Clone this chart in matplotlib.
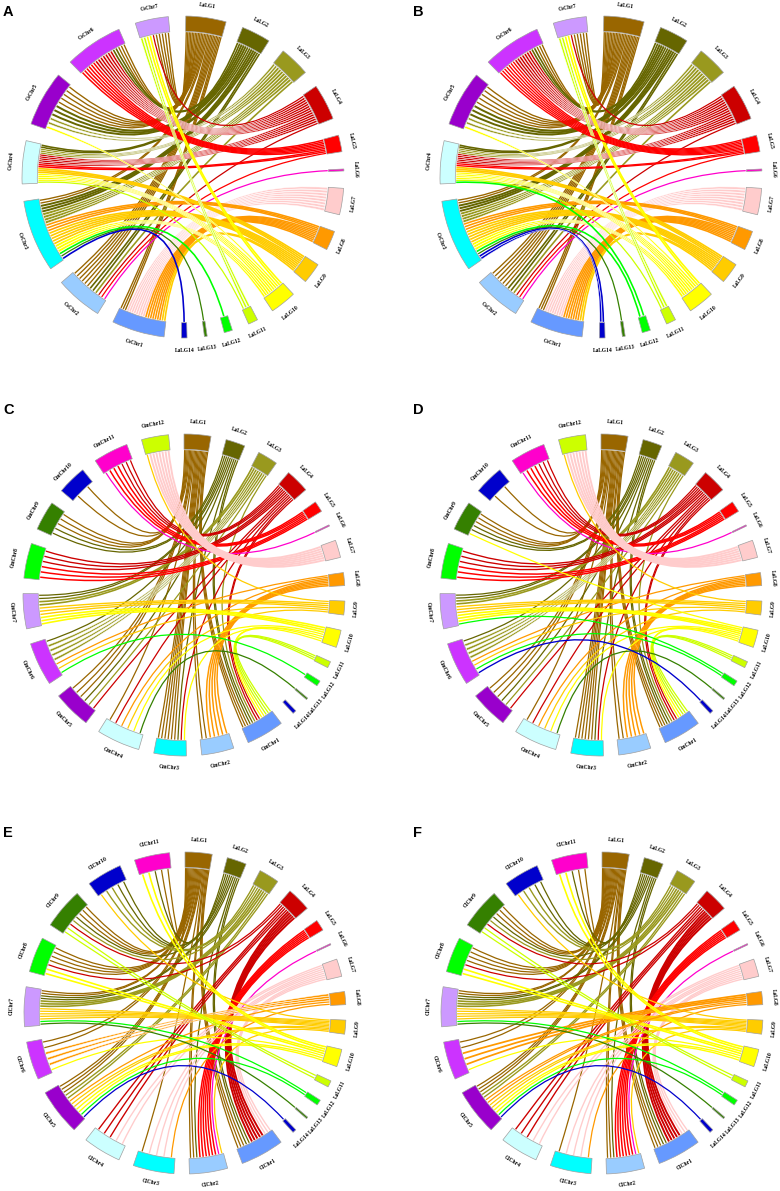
import numpy as np
import matplotlib.pyplot as plt
from matplotlib.path import Path
from matplotlib.patches import PathPatch, Wedge

plt.rcParams['font.family'] = ['Liberation Serif', 'DejaVu Serif']

# chromosome names, relative sizes and colours
LA_NAMES = ['LaLG%d' % i for i in range(1, 15)]
LA_SIZES = [14.5, 10.5, 11, 13, 6, 0.7, 9.5, 7, 7.5, 9.5, 3.5, 3, 1, 2]
LA_COLORS = ['#996600', '#666600', '#99991e', '#cc0000', '#ff0000', '#ff00cc', '#ffcccc',
             '#ff9900', '#ffcc00', '#ffff00', '#ccff00', '#00ff00', '#358000', '#0000cc']

CS_NAMES = ['CsChr%d' % i for i in range(1, 8)]
CS_SIZES = [19, 17, 26, 15.5, 20, 21, 12]
CM_NAMES = ['CmChr%d' % i for i in range(1, 13)]
CM_SIZES = [20.5, 17.5, 17.5, 23.5, 20.5, 23.5, 19, 19, 16, 16, 19, 14.7]
CL_NAMES = ['ClChr%d' % i for i in range(1, 12)]
CL_SIZES = [23.5, 20.5, 22, 20.5, 25, 20.5, 21.3, 19, 22, 19, 19]

OTHER_COLORS = ['#6699ff', '#99ccff', '#00ffff', '#ccffff', '#9900cc', '#cc33ff', '#cc99ff',
                '#00ff00', '#358000', '#0000cc', '#ff00cc', '#ccff00']

# syntenic blocks: (LaLG, other chromosome, number of blocks, block width)
CS_LINKS = [
    (1, 7, 5, 0.8), (1, 6, 3, 0.6), (1, 5, 5, 0.7), (1, 3, 2, 0.5), (1, 2, 6, 0.7), (1, 1, 3, 0.5),
    (2, 6, 2, 0.4), (2, 5, 3, 0.5), (2, 4, 2, 0.4), (2, 3, 3, 0.5), (2, 2, 2, 0.4),
    (3, 5, 2, 0.5), (3, 4, 3, 0.6), (3, 3, 4, 0.8), (3, 2, 1, 0.4),
    (4, 7, 1, 0.3), (4, 6, 7, 0.5), (4, 4, 5, 0.5), (4, 2, 1, 0.3),
    (5, 6, 6, 0.7), (5, 4, 2, 0.4), (5, 2, 1, 0.3),
    (6, 2, 1, 0.3),
    (7, 1, 8, 0.6),
    (8, 3, 3, 0.6), (8, 1, 7, 0.6),
    (9, 4, 3, 0.5), (9, 3, 5, 0.6), (9, 1, 2, 0.4),
    (10, 7, 2, 0.4), (10, 5, 1, 0.5), (10, 4, 4, 0.6), (10, 3, 3, 0.6),
    (11, 7, 2, 0.5), (11, 4, 1, 0.3),
    (12, 3, 1, 0.4), (13, 3, 1, 0.3), (14, 3, 1, 0.4),
]
CS_LINKS_B = CS_LINKS + [(12, 4, 1, 0.4), (14, 3, 1, 0.5), (5, 6, 1, 0.7)]

CM_LINKS = [
    (1, 10, 2, 0.7), (1, 9, 3, 0.6), (1, 5, 3, 0.8), (1, 4, 1, 0.4), (1, 3, 6, 0.7),
    (1, 2, 2, 0.5), (1, 1, 3, 0.5),
    (2, 9, 2, 0.4), (2, 7, 2, 0.4), (2, 6, 1, 0.4), (2, 5, 1, 0.3), (2, 3, 1, 0.4), (2, 1, 2, 0.4),
    (3, 7, 2, 0.6), (3, 6, 4, 0.8), (3, 5, 1, 0.4), (3, 1, 1, 0.4),
    (4, 11, 3, 0.4), (4, 8, 3, 0.5), (4, 5, 1, 0.3), (4, 4, 1, 0.3), (4, 3, 1, 0.3), (4, 1, 2, 0.3),
    (5, 11, 3, 0.6), (5, 8, 3, 0.6),
    (6, 11, 1, 0.3),
    (7, 12, 7, 0.7),
    (8, 6, 1, 0.4), (8, 4, 1, 0.4), (8, 2, 5, 0.7),
    (9, 12, 1, 0.4), (9, 7, 3, 0.5), (9, 6, 1, 0.4), (9, 4, 1, 0.4),
    (10, 7, 3, 0.6), (10, 4, 1, 0.4), (10, 3, 1, 0.3), (10, 1, 2, 0.4),
    (11, 1, 3, 0.4),
    (12, 6, 1, 0.4), (13, 4, 1, 0.4),
]
CM_LINKS_D = CM_LINKS + [(14, 6, 1, 0.5), (12, 7, 1, 0.4), (10, 9, 1, 0.4)]

CL_LINKS = [
    (1, 11, 2, 0.5), (1, 9, 3, 0.5), (1, 8, 4, 0.8), (1, 7, 2, 0.5), (1, 6, 2, 0.5),
    (1, 5, 3, 0.6), (1, 3, 1, 0.4), (1, 2, 2, 0.5), (1, 1, 3, 0.5),
    (2, 11, 1, 0.4), (2, 10, 2, 0.4), (2, 9, 1, 0.3), (2, 7, 2, 0.4), (2, 2, 1, 0.4), (2, 1, 2, 0.4),
    (3, 10, 2, 0.5), (3, 9, 1, 0.4), (3, 7, 3, 0.6), (3, 5, 2, 0.5),
    (4, 9, 1, 0.3), (4, 8, 1, 0.3), (4, 4, 3, 0.5), (4, 1, 5, 0.7),
    (5, 2, 6, 0.8),
    (6, 2, 1, 0.3),
    (7, 4, 2, 0.5), (7, 3, 3, 0.5), (7, 1, 3, 0.5),
    (8, 6, 3, 0.8), (8, 5, 1, 0.4), (8, 3, 1, 0.4),
    (9, 10, 1, 0.3), (9, 7, 5, 0.8), (9, 5, 2, 0.8), (9, 2, 1, 0.4),
    (10, 11, 2, 0.6), (10, 8, 2, 0.6), (10, 6, 1, 0.4), (10, 5, 2, 0.5),
    (11, 9, 2, 0.4),
    (12, 7, 1, 0.4), (12, 5, 1, 0.4), (13, 7, 1, 0.4), (14, 5, 1, 0.4),
]
CL_LINKS_F = CL_LINKS + [(8, 5, 1, 0.4)]

W, H = 780, 1191
R_PX = 161
R_IN = 0.9
WIDTH_GAIN = 1.6

# letter, centre (px), letter pos (px), names, sizes, links, start angle, gap
PANELS = [
    ('A', (183, 177), (3, 5), CS_NAMES, CS_SIZES, CS_LINKS, 89, 6.2),
    ('B', (601, 177), (413, 5), CS_NAMES, CS_SIZES, CS_LINKS_B, 89, 6.2),
    ('C', (184, 595), (3, 403), CM_NAMES, CM_SIZES, CM_LINKS, 90, 5.5),
    ('D', (601, 595), (413, 403), CM_NAMES, CM_SIZES, CM_LINKS_D, 90, 5.5),
    ('E', (185, 1013), (3, 826), CL_NAMES, CL_SIZES, CL_LINKS, 90, 5.5),
    ('F', (602, 1013), (413, 826), CL_NAMES, CL_SIZES, CL_LINKS_F, 90, 5.5),
]


def pt(a, r=R_IN):
    t = np.radians(a)
    return (r * np.cos(t), r * np.sin(t))


def draw_ribbon(ax, a1, a2, b1, b2, color):
    width_px = np.radians(a1 - a2) * R_IN * R_PX
    if width_px < 2.0:
        ma, mb = (a1 + a2) / 2, (b1 + b2) / 2
        path = Path([pt(ma), (0, 0), pt(mb)], [Path.MOVETO, Path.CURVE3, Path.CURVE3])
        ax.add_patch(PathPatch(path, fill=False, ec=color, lw=max(0.9, width_px * 0.72)))
        return
    verts, codes = [], []
    arc = np.linspace(a1, a2, 8)
    verts += [pt(x) for x in arc]
    codes += [Path.MOVETO] + [Path.LINETO] * 7
    verts += [(0, 0), pt(b1)]
    codes += [Path.CURVE3] * 2
    arc = np.linspace(b1, b2, 8)
    verts += [pt(x) for x in arc[1:]]
    codes += [Path.LINETO] * 7
    verts += [(0, 0), pt(a1), (0, 0)]
    codes += [Path.CURVE3, Path.CURVE3, Path.CLOSEPOLY]
    ax.add_patch(PathPatch(Path(verts, codes), fc=color, ec='white', lw=0.3))


fig = plt.figure(figsize=(W / 100, H / 100), dpi=100)

for letter, (cx, cy), (lx, ly), names, sizes, links, start, gap in PANELS:
    L = 1.25 * R_PX
    ax = fig.add_axes([(cx - L) / W, 1 - (cy + L) / H, 2 * L / W, 2 * L / H])
    ax.set_xlim(-1.25, 1.25)
    ax.set_ylim(-1.25, 1.25)
    ax.axis('off')

    all_names = LA_NAMES + names
    all_sizes = LA_SIZES + sizes
    colors = LA_COLORS + OTHER_COLORS[:len(names)]
    n_la = len(LA_NAMES)
    scale = (360 - len(all_sizes) * gap) / sum(all_sizes)
    starts = []
    a = start
    for s in all_sizes:
        starts.append(a)
        a -= s * scale + gap
    centres = [st - s * scale / 2 for st, s in zip(starts, all_sizes)]

    # expand blocks into single ribbons and pack their ends on each chromosome
    ribbons = []
    for la, ot, n, w in links:
        for k in range(n):
            ribbons.append((la - 1, n_la + ot - 1, w * WIDTH_GAIN))
    ends = {i: [] for i in range(len(all_sizes))}
    for idx, (c1, c2, w) in enumerate(ribbons):
        ends[c1].append((-((centres[c1] - centres[c2]) % 360), idx, idx, 0, w))
        ends[c2].append((-((centres[c2] - centres[c1]) % 360), -idx, idx, 1, w))
    pos = {}
    for c, lst in ends.items():
        if not lst:
            continue
        lst.sort()
        slot = all_sizes[c] / len(lst)
        for j, (_, _, idx, side, w) in enumerate(lst):
            u = (j + 0.5) * slot
            hw = min(w, 0.88 * slot) / 2
            pos[(idx, side)] = (starts[c] - (u - hw) * scale, starts[c] - (u + hw) * scale)

    for idx, (c1, c2, w) in enumerate(ribbons):
        a1, a2 = pos[(idx, 0)]
        b1, b2 = pos[(idx, 1)]
        draw_ribbon(ax, a1, a2, b1, b2, LA_COLORS[c1])

    for st, s, nm, col, mid in zip(starts, all_sizes, all_names, colors, centres):
        ax.add_patch(Wedge((0, 0), 1.0, st - s * scale, st, width=0.095,
                           fc=col, ec='#a0a0a0', lw=0.5))
        rot = (mid - 90 + 180) % 360 - 180
        if rot < -90:
            rot += 180
        elif rot > 90:
            rot -= 180
        x, y = pt(mid, 1.075)
        ax.text(x, y, nm, rotation=rot, rotation_mode='anchor', ha='center', va='center',
                fontsize=4, fontweight='bold')

    fig.text(lx / W, 1 - ly / H, letter, ha='left', va='top', fontsize=10.5,
             fontweight='bold', family=['Liberation Sans', 'DejaVu Sans'])

fig.savefig('out.png', dpi=100)
